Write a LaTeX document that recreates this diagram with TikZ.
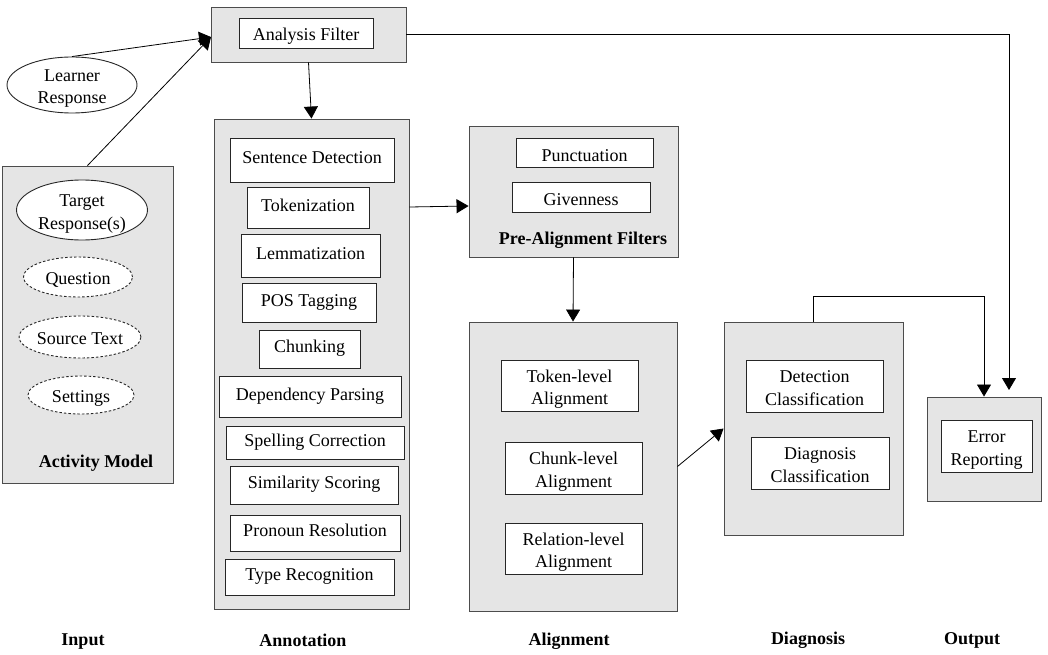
\documentclass[tikz,border=0pt]{standalone}
\usepackage{fontspec}
\setmainfont{Liberation Serif}
\usetikzlibrary{arrows.meta,shapes.geometric}
\tikzset{
  base/.style={font=\fontsize{18}{22.5}\selectfont, align=center, inner sep=0pt},
  one/.style={text height=15pt, text depth=0pt},
  two/.style={text height=38pt, text depth=0pt},
  outerbox/.style={base, draw=black!70, fill=gray!20, line width=0.9pt},
  innerbox/.style={base, draw=black!85, fill=white, line width=0.9pt},
  annbox/.style={innerbox, text height=13pt, text depth=6pt},
  prebox/.style={innerbox, text height=17pt, text depth=0pt},
  solidell/.style={base, ellipse, draw=black!85, fill=white, line width=0.9pt},
  dashell/.style={base, ellipse, draw=black!85, fill=white, line width=0.9pt, dash pattern=on 2.5pt off 2pt},
  lbl/.style={base, font=\fontsize{18}{22}\selectfont\bfseries},
  arr/.style={draw=black, line width=0.8pt, -{Triangle[length=12pt,width=14pt]}},
}
\begin{document}
\begin{tikzpicture}[x=1pt,y=-1pt]
\useasboundingbox (0,0) rectangle (1048,655);
% Analysis filter
\node[outerbox, minimum width=195pt, minimum height=55pt] (af) at (308.5,34.5) {};
\node[innerbox, one, minimum width=134pt, minimum height=30pt] (afi) at (306,33) {Analysis Filter};
% Learner response
\node[solidell, two, minimum width=130pt, minimum height=56pt] (lr) at (72,85) {Learner\\Response};
% Activity model
\node[outerbox, minimum width=171pt, minimum height=317pt] (actm) at (87.5,324.5) {};
\node[solidell, two, minimum width=131pt, minimum height=60pt] (tr) at (82,210) {Target\\Response(s)};
\node[dashell, one, minimum width=109pt, minimum height=40pt] (q) at (78,277) {Question};
\node[dashell, one, minimum width=117pt, minimum height=42pt] (st) at (80,337) {Source Text};
\node[dashell, one, minimum width=106pt, minimum height=38pt] (set) at (81,395) {Settings};
\node[lbl] (actl) at (96,463) {Activity Model};
% Annotation
\node[outerbox, minimum width=195pt, minimum height=490pt] (ann) at (311.5,364) {};
\node[annbox, minimum width=164pt, minimum height=44pt] (sd) at (312,160) {Sentence Detection};
\node[annbox, minimum width=122pt, minimum height=41pt] (tok) at (308,207.5) {Tokenization};
\node[annbox, minimum width=139pt, minimum height=43pt] (lem) at (310.5,255.5) {Lemmatization};
\node[annbox, minimum width=134pt, minimum height=39pt] (pos) at (309,302.5) {POS Tagging};
\node[annbox, minimum width=101pt, minimum height=38pt] (chk) at (309.5,349) {Chunking};
\node[annbox, minimum width=182pt, minimum height=41pt] (dep) at (310,396.5) {Dependency Parsing};
\node[annbox, minimum width=178pt, minimum height=33pt] (spell) at (315,442.5) {Spelling Correction};
\node[annbox, minimum width=168pt, minimum height=38pt] (sim) at (314,485) {Similarity Scoring};
\node[annbox, minimum width=170pt, minimum height=36pt] (pron) at (315,533) {Pronoun Resolution};
\node[annbox, minimum width=169pt, minimum height=36pt] (typ) at (309.5,577) {Type Recognition};
% Pre-alignment
\node[outerbox, minimum width=209pt, minimum height=131pt] (pre) at (573.5,191.5) {};
\node[prebox, minimum width=137pt, minimum height=29pt] (punc) at (584.5,152.5) {Punctuation};
\node[prebox, minimum width=138pt, minimum height=30pt] (giv) at (581,197) {Givenness};
\node[lbl] (prel) at (583,240) {Pre-Alignment Filters};
% Alignment
\node[outerbox, minimum width=208pt, minimum height=289pt] (align) at (573,466.5) {};
\node[innerbox, two, minimum width=137pt, minimum height=51pt] (tokal) at (569.5,385.5) {Token-level\\Alignment};
\node[innerbox, two, minimum width=137pt, minimum height=52pt] (chkal) at (573.5,468) {Chunk-level\\Alignment};
\node[innerbox, two, minimum width=137pt, minimum height=51pt] (relal) at (573.5,548.5) {Relation-level\\Alignment};
% Diagnosis
\node[outerbox, minimum width=179pt, minimum height=213pt] (diag) at (813.5,428.5) {};
\node[innerbox, two, minimum width=137pt, minimum height=52pt] (det) at (814.5,386) {Detection\\Classification};
\node[innerbox, two, minimum width=138pt, minimum height=52pt] (dgc) at (820,463) {Diagnosis\\Classification};
% Output
\node[outerbox, minimum width=114pt, minimum height=104pt] (out) at (984,449) {};
\node[innerbox, two, minimum width=91pt, minimum height=52pt] (err) at (986.5,446) {Error\\Reporting};
% Column labels
\node[lbl] (inl) at (83,642) {Input};
\node[lbl] (annl) at (303,640) {Annotation};
\node[lbl] (alil) at (569,641) {Alignment};
\node[lbl] (diagl) at (808,640) {Diagnosis};
\node[lbl] (outl) at (972,640) {Output};
% Connectors
\coordinate (afin) at (211,37);
\coordinate (outin) at (1009,390);
\draw[arr] (lr.north) -- (afin);
\draw[arr] (actm.north) -- (afin);
\draw[arr] (af.south) -- (ann.north);
\draw[arr] (ann.east |- 0,207) -- (pre.west |- 0,206);
\draw[arr] (pre.south) -- (align.north);
\draw[arr] (align.east) -- (diag.west);
\draw[arr] (diag.north) -- (diag.north |- 0,296) -| (out.north);
\draw[arr] (af.east) -| (outin);
\end{tikzpicture}
\end{document}
